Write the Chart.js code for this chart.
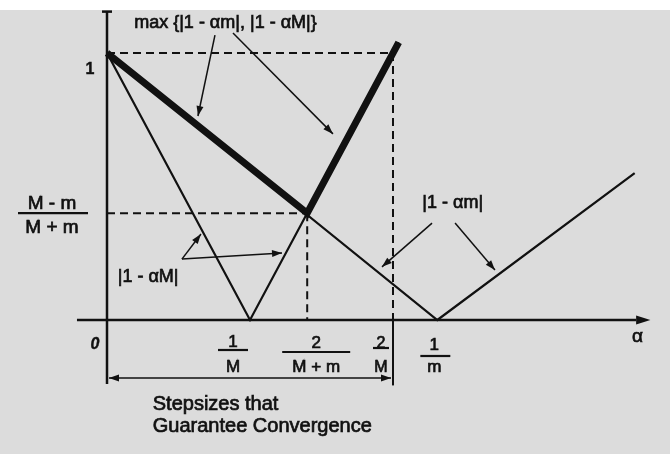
<!DOCTYPE html>
<html>
<head>
<meta charset="utf-8">
<script src="https://cdn.jsdelivr.net/npm/chart.js@4/dist/chart.umd.min.js"></script>
<style>
  html, body { margin: 0; padding: 0; background: #ffffff; }
  #wrap { width: 670px; height: 454px; }
</style>
</head>
<body>
<div id="wrap"><canvas id="c" width="670" height="454"></canvas></div>
<script>
// Step-size values on the alpha axis: 0, 1/M, 2/(M+m), 2/M, 1/m  (M = 1, m ≈ 0.433)
const alphaTicks = [0, 1.0, 1.40, 2.0, 2.31];
const alphaTickLabels = [['0'], ['1', 'M'], ['2', 'M + m'], ['2', 'M'], ['1', 'm']];

// Levels marked on the vertical axis: 1 and (M - m)/(M + m)
const levelTicks = [1, 0.40];
const levelTickLabels = [['1'], ['M - m', 'M + m']];

// |1 - αM|
const curveBigMAlpha = [0, 1.0, 2.04];
const curveBigMValue = [1, 0, 1.04];

// |1 - αm|
const curveSmallMAlpha = [0, 2.31, 3.69];
const curveSmallMValue = [1, 0, 0.55];

// max{|1 - αm|, |1 - αM|}
const envelopeAlpha = [0, 1.40, 2.04];
const envelopeValue = [1, 0.40, 1.04];

const pts = (xs, ys) => xs.map((x, i) => ({ x, y: ys[i] }));

const INK = '#111111';
const FONT = '"Liberation Sans", Arial, Helvetica, sans-serif';

// filled text with a light outline so the glyphs read as heavy print
function ink(ctx, s, x, y, w) {
  ctx.fillText(s, x, y);
  ctx.save();
  ctx.lineWidth = w === undefined ? 0.7 : w;
  ctx.strokeText(s, x, y);
  ctx.restore();
}

function arrowHead(ctx, x0, y0, x1, y1, len, half) {
  const a = Math.atan2(y1 - y0, x1 - x0);
  ctx.beginPath();
  ctx.moveTo(x1, y1);
  ctx.lineTo(x1 - len * Math.cos(a) + half * Math.sin(a), y1 - len * Math.sin(a) - half * Math.cos(a));
  ctx.lineTo(x1 - len * Math.cos(a) - half * Math.sin(a), y1 - len * Math.sin(a) + half * Math.cos(a));
  ctx.closePath();
  ctx.fill();
}

function arrow(ctx, x0, y0, x1, y1) {
  ctx.beginPath();
  ctx.moveTo(x0, y0);
  ctx.lineTo(x1, y1);
  ctx.stroke();
  arrowHead(ctx, x0, y0, x1, y1, 10, 3.5);
}

function fraction(ctx, cx, lineY, x0, x1, num, den, size, numGap, denBase) {
  ctx.font = size + 'px ' + FONT;
  ctx.textAlign = 'center';
  ctx.textBaseline = 'alphabetic';
  ink(ctx, num, cx, lineY - numGap);
  ink(ctx, den, cx, lineY + denBase);
  ctx.save();
  ctx.lineWidth = 2.2;
  ctx.beginPath();
  ctx.moveTo(x0, lineY);
  ctx.lineTo(x1, lineY);
  ctx.stroke();
  ctx.restore();
}

const paper = {
  id: 'paper',
  beforeDraw(chart) {
    const { ctx, width, height } = chart;
    ctx.save();
    ctx.fillStyle = '#dcdcdc';
    ctx.fillRect(0, 0, width, height);
    ctx.fillStyle = '#ffffff';
    ctx.fillRect(0, 0, width, 10);
    ctx.restore();
  }
};

const decorations = {
  id: 'decorations',
  afterDatasetsDraw(chart) {
    const { ctx } = chart;
    const xs = chart.scales.x, ys = chart.scales.y;
    const X = v => xs.getPixelForValue(v);
    const Y = v => ys.getPixelForValue(v);
    const x0 = X(0), y0 = Y(0);

    ctx.save();
    ctx.strokeStyle = INK;
    ctx.fillStyle = INK;
    ctx.lineCap = 'butt';

    // vertical axis with a cap at the top
    ctx.lineWidth = 2.5;
    ctx.beginPath();
    ctx.moveTo(x0, Y(1.155));
    ctx.lineTo(x0, Y(-0.24));
    ctx.stroke();
    ctx.beginPath();
    ctx.moveTo(x0 - 5, Y(1.155));
    ctx.lineTo(x0 + 5, Y(1.155));
    ctx.stroke();

    // alpha axis with arrow
    ctx.beginPath();
    ctx.moveTo(X(-0.21), y0);
    ctx.lineTo(X(3.70), y0);
    ctx.stroke();
    ctx.beginPath();
    ctx.moveTo(X(3.80), y0);
    ctx.lineTo(X(3.70), y0 - 4.5);
    ctx.lineTo(X(3.70), y0 + 4.5);
    ctx.closePath();
    ctx.fill();

    // solid drop below the axis at 2/M and the convergence bracket
    ctx.lineWidth = 2;
    ctx.beginPath();
    ctx.moveTo(X(alphaTicks[3]), y0);
    ctx.lineTo(X(alphaTicks[3]), Y(-0.245));
    ctx.stroke();
    const by = Y(-0.217);
    ctx.lineWidth = 1.6;
    ctx.beginPath();
    ctx.moveTo(x0 + 2, by);
    ctx.lineTo(X(alphaTicks[3]) - 2, by);
    ctx.stroke();
    arrowHead(ctx, X(1), by, x0 + 2, by, 10, 3.5);
    arrowHead(ctx, X(1), by, X(alphaTicks[3]) - 2, by, 10, 3.5);

    // tick labels on the vertical axis
    ctx.font = 'bold 16px ' + FONT;
    ctx.textAlign = 'center';
    ctx.textBaseline = 'alphabetic';
    ink(ctx, levelTickLabels[0][0], x0 - 17, Y(levelTicks[0]) + 21, 0.4);
    fraction(ctx, x0 - 55, Y(levelTicks[1]), x0 - 89, x0 - 19,
      levelTickLabels[1][0], levelTickLabels[1][1], 19, 4, 20);

    // tick labels on the alpha axis
    ctx.font = 'bold italic 16px ' + FONT;
    ink(ctx, alphaTickLabels[0][0], x0 - 12, y0 + 29, 0.4);
    fraction(ctx, X(alphaTicks[1]) - 17, y0 + 30, X(alphaTicks[1]) - 32, X(alphaTicks[1]) - 2,
      alphaTickLabels[1][0], alphaTickLabels[1][1], 17, 3, 22);
    fraction(ctx, X(alphaTicks[2]) + 9, y0 + 32, X(alphaTicks[2]) - 25, X(alphaTicks[2]) + 43,
      alphaTickLabels[2][0], alphaTickLabels[2][1], 17, 4, 20);
    fraction(ctx, X(alphaTicks[3]) - 12, y0 + 28, X(alphaTicks[3]) - 20, X(alphaTicks[3]) - 4,
      alphaTickLabels[3][0], alphaTickLabels[3][1], 16, 0, 24);
    fraction(ctx, X(alphaTicks[4]) - 3, y0 + 36, X(alphaTicks[4]) - 17, X(alphaTicks[4]) + 13,
      alphaTickLabels[4][0], alphaTickLabels[4][1], 17, 6, 16);

    ctx.font = '19px ' + FONT;
    ink(ctx, 'α', X(3.71), y0 + 22);

    // annotations
    ctx.font = '18px ' + FONT;
    ctx.textAlign = 'left';
    ink(ctx, 'max {|1 - αm|, |1 - αM|}', X(0.19), Y(1.095));
    ink(ctx, '|1 - αM|', X(0.075), Y(0.142));
    ink(ctx, '|1 - αm|', X(2.205), Y(0.42));

    ctx.font = '20px ' + FONT;
    ink(ctx, 'Stepsizes that', X(0.32), Y(-0.338));
    ink(ctx, 'Guarantee Convergence', X(0.32), Y(-0.42));

    ctx.lineWidth = 1.5;
    arrow(ctx, X(0.755), Y(1.067), X(0.636), Y(0.764));
    arrow(ctx, X(0.881), Y(1.075), X(1.580), Y(0.697));
    arrow(ctx, X(0.524), Y(0.228), X(0.657), Y(0.322));
    arrow(ctx, X(0.524), Y(0.228), X(1.224), Y(0.251));
    arrow(ctx, X(2.273), Y(0.363), X(1.923), Y(0.199));
    arrow(ctx, X(2.434), Y(0.363), X(2.713), Y(0.187));

    ctx.restore();
  }
};

const thin = { showLine: true, pointRadius: 0, borderColor: INK, borderWidth: 2.2, fill: false, tension: 0 };
const dashed = { showLine: true, pointRadius: 0, borderColor: INK, borderWidth: 2, borderDash: [8, 5], fill: false };

new Chart(document.getElementById('c'), {
  type: 'scatter',
  data: {
    datasets: [
      // guide lines at level 1 and at the crossing point
      { ...dashed, data: [{ x: 0, y: levelTicks[0] }, { x: alphaTicks[3], y: levelTicks[0] }] },
      { ...dashed, data: [{ x: alphaTicks[3], y: levelTicks[0] }, { x: alphaTicks[3], y: 0 }] },
      { ...dashed, data: [{ x: 0, y: levelTicks[1] }, { x: alphaTicks[2], y: levelTicks[1] }] },
      { ...dashed, data: [{ x: alphaTicks[2], y: levelTicks[1] }, { x: alphaTicks[2], y: 0 }] },
      { ...thin, label: '|1 - αM|', data: pts(curveBigMAlpha, curveBigMValue) },
      { ...thin, label: '|1 - αm|', data: pts(curveSmallMAlpha, curveSmallMValue) },
      { ...thin, label: 'max', borderWidth: 7, borderJoinStyle: 'miter', data: pts(envelopeAlpha, envelopeValue) }
    ]
  },
  options: {
    responsive: false,
    animation: false,
    layout: { padding: 0 },
    plugins: { legend: { display: false }, tooltip: { enabled: false } },
    scales: {
      x: { type: 'linear', display: false, min: -0.7483, max: 3.9371 },
      y: { type: 'linear', display: false, min: -0.5019, max: 1.1985 }
    }
  },
  plugins: [paper, decorations]
});
</script>
</body>
</html>
